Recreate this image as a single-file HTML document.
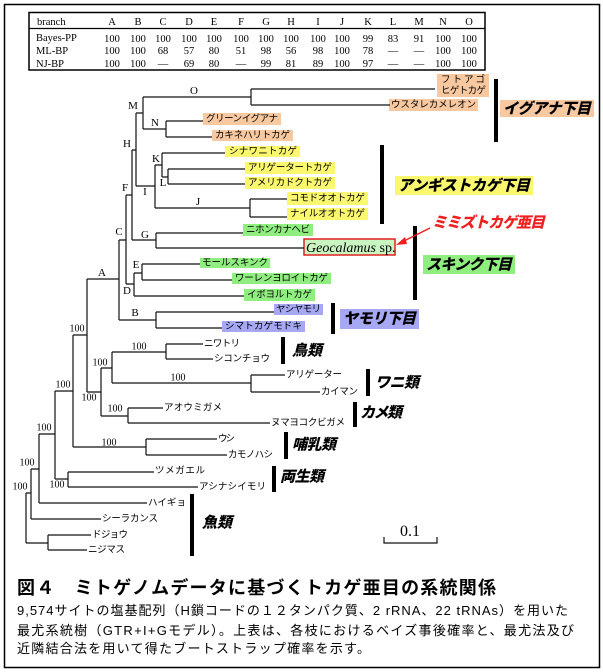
<!DOCTYPE html>
<html><head><meta charset="utf-8"><style>
html,body{margin:0;padding:0;background:#fff;width:603px;height:672px;overflow:hidden}
svg{display:block}
.t{font-family:"Liberation Serif",serif;font-size:10.5px;fill:#000}
.n{font-family:"Liberation Sans","Noto Sans CJK JP",sans-serif;font-size:9.5px;fill:#000;dominant-baseline:central}
.g{font-family:"Liberation Sans","Noto Sans CJK JP",sans-serif;font-size:15px;font-weight:900;font-style:italic;fill:#000;dominant-baseline:central}
.b{font-family:"Liberation Serif",serif;font-size:10px;fill:#000;text-anchor:middle;dominant-baseline:central}
.l{font-family:"Liberation Serif",serif;font-size:11px;fill:#000;text-anchor:middle;dominant-baseline:central}
.c{font-family:"Liberation Sans","Noto Sans CJK JP",sans-serif;fill:#000}
</style></head><body>
<svg width="603" height="672" viewBox="0 0 603 672" xmlns="http://www.w3.org/2000/svg">
<rect x="4.5" y="4.5" width="595" height="663" fill="none" stroke="#000" stroke-width="1.5"/>
<!-- table -->
<rect x="29" y="12.5" width="456" height="57.5" fill="none" stroke="#000" stroke-width="1.5"/>
<line x1="29" y1="28.5" x2="485" y2="28.5" stroke="#000" stroke-width="1.2"/>
<g class="t">
<text x="37" y="25">branch</text>
<text x="36" y="41">Bayes-PP</text>
<text x="36" y="54">ML-BP</text>
<text x="36" y="67">NJ-BP</text>
</g>
<g class="t" text-anchor="middle">
<text x="112" y="25">A</text><text x="138" y="25">B</text><text x="163" y="25">C</text><text x="189" y="25">D</text><text x="214" y="25">E</text><text x="241" y="25">F</text><text x="266" y="25">G</text><text x="291" y="25">H</text><text x="318" y="25">I</text><text x="342" y="25">J</text><text x="368" y="25">K</text><text x="393" y="25">L</text><text x="419" y="25">M</text><text x="443" y="25">N</text><text x="469" y="25">O</text>
<text x="112" y="42">100</text><text x="138" y="42">100</text><text x="163" y="42">100</text><text x="189" y="42">100</text><text x="214" y="42">100</text><text x="241" y="42">100</text><text x="266" y="42">100</text><text x="291" y="42">100</text><text x="318" y="42">100</text><text x="342" y="42">100</text><text x="368" y="42">99</text><text x="393" y="42">83</text><text x="419" y="42">91</text><text x="443" y="42">100</text><text x="469" y="42">100</text>
<text x="112" y="54">100</text><text x="138" y="54">100</text><text x="163" y="54">68</text><text x="189" y="54">57</text><text x="214" y="54">80</text><text x="241" y="54">51</text><text x="266" y="54">98</text><text x="291" y="54">56</text><text x="318" y="54">98</text><text x="342" y="54">100</text><text x="368" y="54">78</text><text x="393" y="54">—</text><text x="419" y="54">—</text><text x="443" y="54">100</text><text x="469" y="54">100</text>
<text x="112" y="67">100</text><text x="138" y="67">100</text><text x="163" y="67">—</text><text x="189" y="67">69</text><text x="214" y="67">80</text><text x="241" y="67">—</text><text x="266" y="67">99</text><text x="291" y="67">81</text><text x="318" y="67">89</text><text x="342" y="67">100</text><text x="368" y="67">97</text><text x="393" y="67">—</text><text x="419" y="67">—</text><text x="443" y="67">100</text><text x="469" y="67">100</text>
</g>
<!-- label boxes -->
<g>
<rect x="437" y="74" width="52" height="23" fill="#f8c8a0"/>
<rect x="389" y="99" width="89" height="12" fill="#f8c8a0"/>
<rect x="203" y="113" width="78" height="12" fill="#f8c8a0"/>
<rect x="212" y="130" width="81" height="11" fill="#f8c8a0"/>
<rect x="500" y="100" width="94" height="17" fill="#f8c8a0"/>
<rect x="225" y="146" width="75" height="11" fill="#fbf870"/>
<rect x="245" y="162" width="90" height="12" fill="#fbf870"/>
<rect x="245" y="177" width="90" height="12" fill="#fbf870"/>
<rect x="287" y="192" width="81" height="13" fill="#fbf870"/>
<rect x="287" y="208" width="81" height="12" fill="#fbf870"/>
<rect x="395" y="176" width="138" height="19" fill="#fbf870"/>
<rect x="243" y="224" width="70" height="12" fill="#90ee80"/>
<rect x="304" y="239" width="91" height="16" fill="#c8f5c0" stroke="#e02020" stroke-width="1.5"/>
<rect x="200" y="258" width="70" height="10" fill="#90ee80"/>
<rect x="232" y="273" width="99" height="11" fill="#90ee80"/>
<rect x="244" y="289" width="71" height="12" fill="#90ee80"/>
<rect x="423" y="255" width="92" height="19" fill="#90ee80"/>
<rect x="274" y="304" width="49" height="11" fill="#a6a8f4"/>
<rect x="222" y="321" width="83" height="11" fill="#a6a8f4"/>
<rect x="340" y="309" width="79" height="20" fill="#a6a8f4"/>
</g>
<!-- tree -->
<path fill="none" stroke="#111" stroke-width="1.2" d="
M143 97H251M251 89V105M251 89H435M251 105H390
M143 97V129M136 113H143
M143 129H166M166 121V137M166 121H203M166 137H212
M136 113V186M132 150H136
M136 186H155M155 165V208M155 165H162M162 153V177M162 153H225M162 177H168M168 169V184M168 169H245M168 184H245
M155 208H250M250 199V217M250 199H287M250 217H287
M132 150V240M126 195H132
M132 240H156M156 233V248M156 233H243M156 248H304
M126 195V284M119 240H126
M126 284H134M134 273V296M134 273H142M142 264V280M142 264H200M142 280H232M134 296H244
M119 240V320M87 279H119M119 320H156M156 312V328M156 312H274M156 328H222
M87 279V392M87 392H101M101 368V416M101 368H112M112 352V383M112 352H166M166 344V359M166 344H203M166 359H213M112 383H251M251 375V392M251 375H285M251 392H320M101 416H128M128 408V423M128 408H163M128 423H270
M73 335V447M73 335H87M73 447H146M146 439V455M146 439H217M146 455H227
M55 391V479M55 391H73M55 479H68M68 472V487M68 472H154M68 487H198
M39 434V503M39 434H55M39 503H147
M31 469V519M31 469H39M31 519H101
M26 493V543M26 493H31M26 543H48M48 535V550M48 535H91M48 550H87
M384 537V543H437V537"/>
<!-- node letters -->
<g class="l">
<text x="194" y="91">O</text><text x="133" y="106">M</text><text x="155" y="123">N</text><text x="127" y="144">H</text><text x="156" y="159">K</text><text x="163" y="183">L</text><text x="145" y="192">I</text><text x="125" y="188">F</text><text x="198" y="202">J</text><text x="119" y="232">C</text><text x="145" y="235">G</text><text x="136" y="265">E</text><text x="127" y="291">D</text><text x="135" y="313">B</text><text x="102" y="273">A</text>
</g>
<g class="b">
<text x="77" y="329">100</text><text x="89" y="398">100</text><text x="100" y="363">100</text><text x="139" y="347">100</text><text x="178" y="378">100</text><text x="115" y="409">100</text><text x="109" y="443">100</text><text x="63" y="385">100</text><text x="57" y="485">100</text><text x="44" y="428">100</text><text x="27" y="463">100</text><text x="20" y="487">100</text>
</g>
<!-- leaf names -->
<g class="n">
<text x="441" y="80" textLength="44">フトアゴ</text>
<text x="441" y="91" textLength="45">ヒゲトカゲ</text>
<text x="391" y="105" textLength="85">ウスタレカメレオン</text>
<text x="206" y="119" textLength="72">グリーンイグアナ</text>
<text x="215" y="135.5" textLength="75">カキネハリトカゲ</text>
<text x="229" y="151.5" textLength="68">シナワニトカゲ</text>
<text x="248" y="168" textLength="84">アリゲータートカゲ</text>
<text x="248" y="183" textLength="84">アメリカドクトカゲ</text>
<text x="290" y="198.5" textLength="75">コモドオオトカゲ</text>
<text x="290" y="214" textLength="75">ナイルオオトカゲ</text>
<text x="246" y="230" textLength="64">ニホンカナヘビ</text>
<text x="202" y="263" textLength="66">モールスキンク</text>
<text x="235" y="278.5" textLength="93">ワーレンヨロイトカゲ</text>
<text x="247" y="295" textLength="65">イボヨルトカゲ</text>
<text x="276" y="309.5" textLength="45">ヤシヤモリ</text>
<text x="225" y="326.5" textLength="77">シマトカゲモドキ</text>
<text x="204" y="344" textLength="36">ニワトリ</text>
<text x="214" y="359" textLength="56">シコンチョウ</text>
<text x="286" y="375" textLength="56">アリゲーター</text>
<text x="321" y="392" textLength="37">カイマン</text>
<text x="164" y="408" textLength="58">アオウミガメ</text>
<text x="271" y="423" textLength="74">ヌマヨコクビガメ</text>
<text x="218" y="439" textLength="17">ウシ</text>
<text x="228" y="455" textLength="45">カモノハシ</text>
<text x="155" y="471" textLength="50">ツメガエル</text>
<text x="199" y="487" textLength="67">アシナシイモリ</text>
<text x="148" y="503" textLength="38">ハイギョ</text>
<text x="102" y="519" textLength="56">シーラカンス</text>
<text x="92" y="535" textLength="36">ドジョウ</text>
<text x="88" y="550" textLength="37">ニジマス</text>
</g>
<text x="306" y="252" font-family="Liberation Serif,serif" font-size="14" font-style="italic">Geocalamus<tspan font-style="normal"> sp.</tspan></text>
<!-- bars -->
<g fill="#000">
<rect x="494" y="79" width="4" height="63"/>
<rect x="380" y="145" width="4" height="79"/>
<rect x="413" y="226" width="4" height="74"/>
<rect x="331" y="303" width="4" height="31"/>
<rect x="281" y="337" width="4" height="27"/>
<rect x="366" y="369" width="4" height="27"/>
<rect x="353" y="402" width="4" height="25"/>
<rect x="284" y="432" width="4" height="27"/>
<rect x="272" y="466" width="4" height="26"/>
<rect x="190" y="494" width="4" height="62"/>
</g>
<g class="g">
<text x="503" y="109" textLength="88">イグアナ下目</text>
<text x="398" y="186" textLength="132">アンギストカゲ下目</text>
<text x="426" y="265" textLength="86">スキンク下目</text>
<text x="343" y="319" textLength="73">ヤモリ下目</text>
<text x="292" y="351" textLength="30">鳥類</text>
<text x="375" y="383" textLength="44">ワニ類</text>
<text x="360" y="413" textLength="42">カメ類</text>
<text x="292" y="445" textLength="44">哺乳類</text>
<text x="280" y="477" textLength="44">両生類</text>
<text x="202" y="523" textLength="30">魚類</text>
</g>
<text x="432" y="223" class="g" fill="#f02020" style="fill:#f02020" textLength="113">ミミズトカゲ亜目</text>
<path d="M430 228L402 242" stroke="#f02020" stroke-width="1.5"/>
<path d="M396 245L405 237L407 244Z" fill="#f02020"/>
<text x="410" y="536" font-family="Liberation Serif,serif" font-size="16" text-anchor="middle">0.1</text>
<!-- caption -->
<text x="17" y="594" class="c" font-size="18" font-weight="bold" textLength="479">図４　ミトゲノムデータに基づくトカゲ亜目の系統関係</text>
<text x="17" y="615" class="c" font-size="13" textLength="551">9,574サイトの塩基配列（H鎖コードの１２タンパク質、2 rRNA、22 tRNAs）を用いた</text>
<text x="17" y="635" class="c" font-size="13" textLength="557">最尤系統樹（GTR+I+Gモデル）。上表は、各枝におけるベイズ事後確率と、最尤法及び</text>
<text x="17" y="653" class="c" font-size="13" textLength="353">近隣結合法を用いて得たブートストラップ確率を示す。</text>
</svg>
</body></html>
